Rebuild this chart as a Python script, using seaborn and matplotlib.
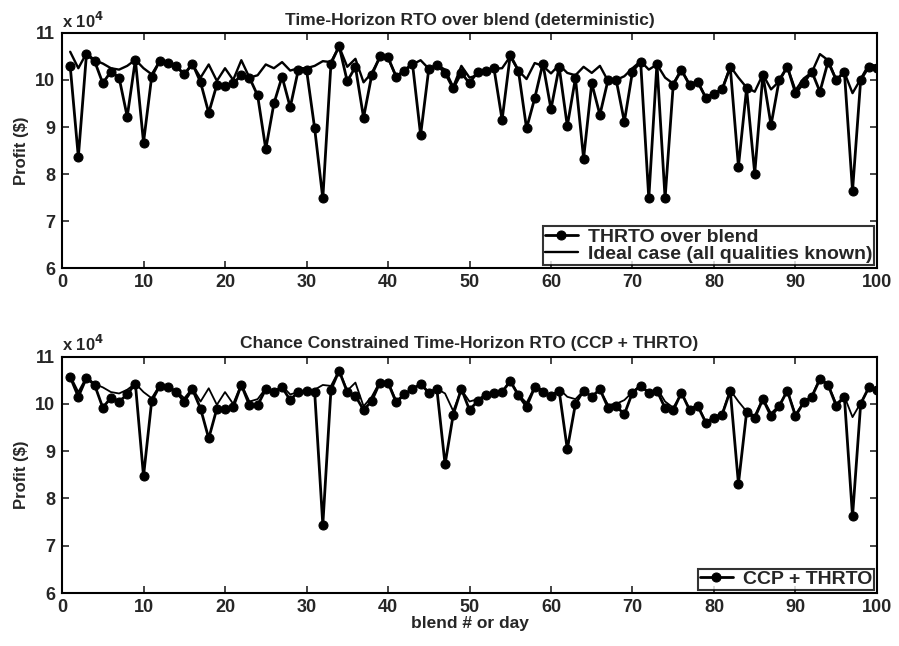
import numpy as np
import pandas as pd
import matplotlib
matplotlib.use("Agg")
import matplotlib.pyplot as plt
import seaborn as sns

# Daily profit, in units of 10^4 $
blend = list(range(1, 101))

thrto_over_blend = [
    10.30, 8.36, 10.55, 10.40, 9.93, 10.18, 10.05, 9.22, 10.43, 8.67,
    10.07, 10.41, 10.36, 10.30, 10.12, 10.35, 9.95, 9.30, 9.90, 9.87,
    9.93, 10.10, 10.05, 9.67, 8.53, 9.50, 10.07, 9.42, 10.22, 10.22,
    8.97, 7.48, 10.35, 10.72, 9.97, 10.28, 9.20, 10.10, 10.50, 10.48,
    10.07, 10.20, 10.35, 8.83, 10.23, 10.32, 10.15, 9.82, 10.15, 9.93,
    10.18, 10.20, 10.25, 9.15, 10.53, 10.20, 8.97, 9.61, 10.35, 9.38,
    10.28, 9.02, 10.04, 8.33, 9.93, 9.26, 10.00, 10.00, 9.11, 10.18,
    10.39, 7.48, 10.35, 7.48, 9.90, 10.21, 9.90, 9.96, 9.62, 9.70,
    9.80, 10.27, 8.16, 9.82, 8.01, 10.11, 9.04, 10.00, 10.28, 9.72,
    9.93, 10.18, 9.75, 10.39, 10.00, 10.18, 7.64, 10.00, 10.28, 10.25,
]

ideal_case = [
    10.60, 10.25, 10.57, 10.42, 10.35, 10.25, 10.22, 10.30, 10.43, 10.25,
    10.12, 10.40, 10.36, 10.28, 10.12, 10.33, 10.05, 10.33, 9.98, 10.25,
    10.00, 10.42, 10.05, 10.10, 10.33, 10.25, 10.38, 10.20, 10.25, 10.25,
    10.30, 10.40, 10.38, 10.71, 10.28, 10.45, 9.95, 10.15, 10.47, 10.47,
    10.07, 10.20, 10.33, 10.42, 10.24, 10.32, 10.22, 9.85, 10.30, 10.05,
    10.10, 10.19, 10.24, 10.25, 10.50, 10.20, 10.02, 10.36, 10.30, 10.14,
    10.32, 10.15, 10.10, 10.28, 10.15, 10.30, 9.98, 10.00, 10.08, 10.25,
    10.40, 10.22, 10.33, 10.05, 9.92, 10.22, 9.90, 9.97, 9.62, 9.72,
    9.80, 10.29, 10.05, 9.84, 9.75, 10.12, 9.80, 9.97, 10.28, 9.78,
    10.03, 10.16, 10.55, 10.42, 10.00, 10.16, 9.72, 10.02, 10.33, 10.30,
]

ccp_thrto = [
    10.57, 10.15, 10.55, 10.40, 9.92, 10.13, 10.05, 10.20, 10.43, 8.47,
    10.06, 10.38, 10.35, 10.25, 10.05, 10.31, 9.90, 9.27, 9.90, 9.90,
    9.93, 10.40, 9.97, 9.97, 10.31, 10.25, 10.35, 10.08, 10.26, 10.27,
    10.25, 7.44, 10.30, 10.70, 10.25, 10.17, 9.87, 10.06, 10.45, 10.45,
    10.03, 10.20, 10.31, 10.42, 10.24, 10.31, 8.72, 9.77, 10.32, 9.87,
    10.06, 10.18, 10.23, 10.25, 10.48, 10.18, 9.94, 10.35, 10.25, 10.17,
    10.28, 9.04, 10.00, 10.28, 10.15, 10.31, 9.92, 9.95, 9.78, 10.24,
    10.38, 10.24, 10.28, 9.91, 9.86, 10.24, 9.87, 9.96, 9.60, 9.70,
    9.77, 10.28, 8.31, 9.82, 9.70, 10.10, 9.74, 9.95, 10.28, 9.74,
    10.03, 10.15, 10.52, 10.40, 9.96, 10.15, 7.62, 10.00, 10.35, 10.30,
]

x_ticks = [0, 10, 20, 30, 40, 50, 60, 70, 80, 90, 100]
y_ticks = [6, 7, 8, 9, 10, 11]

sns.set_style("ticks")
plt.rcParams["font.family"] = ["Liberation Sans", "DejaVu Sans"]
plt.rcParams["font.weight"] = "bold"
plt.rcParams["xtick.direction"] = "in"
plt.rcParams["ytick.direction"] = "in"

df = pd.DataFrame({
    "blend": blend,
    "thrto": thrto_over_blend,
    "ideal": ideal_case,
    "ccp": ccp_thrto,
})

fig = plt.figure(figsize=(8.99, 6.46), dpi=100)
ax1 = fig.add_axes([0.069, 0.585, 0.9065, 0.364])
ax2 = fig.add_axes([0.069, 0.082, 0.9065, 0.366])

mk = dict(marker="o", markersize=6.5, markerfacecolor="black",
          markeredgecolor="black")

sns.lineplot(data=df, x="blend", y="thrto", ax=ax1, color="black",
             linewidth=2.0, label="THRTO over blend", **mk)
sns.lineplot(data=df, x="blend", y="ideal", ax=ax1, color="black",
             linewidth=1.7, label="Ideal case (all qualities known)")

sns.lineplot(data=df, x="blend", y="ccp", ax=ax2, color="black",
             linewidth=2.0, label="CCP + THRTO", **mk)
sns.lineplot(data=df, x="blend", y="ideal", ax=ax2, color="black",
             linewidth=1.3, legend=False)

titles = ["Time-Horizon RTO over blend (deterministic)",
          "Chance Constrained Time-Horizon RTO (CCP + THRTO)"]

for ax, title in zip((ax1, ax2), titles):
    ax.set_xlim(0, 100)
    ax.set_ylim(6, 11)
    ax.set_xticks(x_ticks)
    ax.set_yticks(y_ticks)
    ax.tick_params(axis="both", which="both", top=True, right=True,
                   length=5, width=1.2, labelsize=13)
    ax.tick_params(axis="x", pad=4)
    ax.tick_params(axis="y", pad=5)
    for lab in ax.get_xticklabels() + ax.get_yticklabels():
        lab.set_fontweight("bold")
    for sp in ax.spines.values():
        sp.set_visible(True)
        sp.set_linewidth(1.5)
        sp.set_color("black")
    ax.set_title(title, fontsize=12.5, fontweight="bold", pad=6)
    ax.set_ylabel("Profit ($)", fontsize=12, fontweight="bold", labelpad=4)
    ax.set_xlabel("")
    ax.text(0.0, 1.01, r"x 10$^4$", transform=ax.transAxes, fontsize=12,
            fontweight="bold", ha="left", va="bottom")
    leg = ax.legend(loc="lower right", frameon=True, fancybox=False,
                    edgecolor="black", fontsize=14, borderpad=0.1,
                    labelspacing=0.0, handlelength=1.7, handletextpad=0.5,
                    borderaxespad=0.15)
    leg.get_frame().set_linewidth(1.5)
    for t in leg.get_texts():
        t.set_fontweight("bold")

ax2.set_xlabel("blend # or day", fontsize=12.5, fontweight="bold", labelpad=0)

fig.savefig("out.png", dpi=100, facecolor="white")
